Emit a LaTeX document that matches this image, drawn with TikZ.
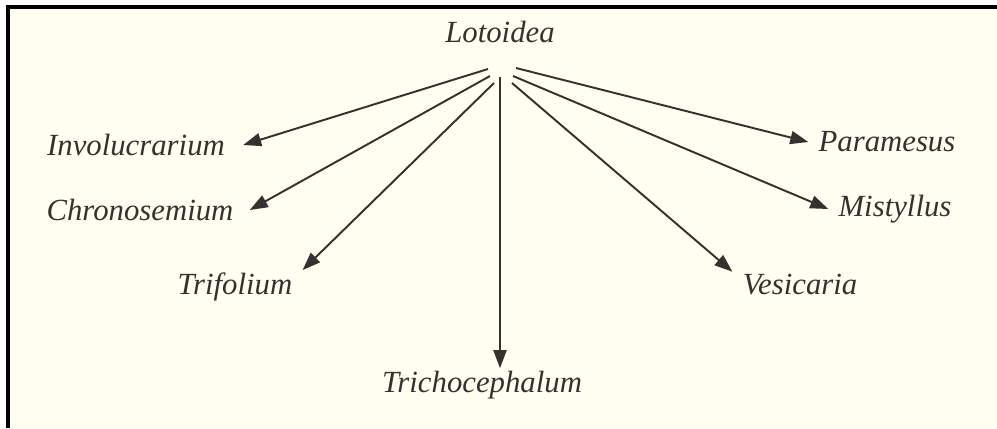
\documentclass[tikz,border=0pt]{standalone}
\usepackage{fontspec}
\setmainfont{Liberation Serif}
\usepackage{xcolor}
\usepackage{tikz}
\usetikzlibrary{arrows.meta,calc}
\definecolor{paper}{RGB}{255,254,241}
\definecolor{ink}{RGB}{52,50,46}
\begin{document}
\begin{tikzpicture}[
  font=\fontsize{17.5}{20}\selectfont\itshape,
  taxon/.style={text=ink, inner xsep=0.2cm, inner ysep=0.05cm},
  arrow/.style={draw=ink, line width=1.1pt, -{Triangle[length=0.36cm, width=0.26cm]}}
]
\useasboundingbox (0,0) rectangle (19.94,-8.56);
\fill[white] (0,0) rectangle (19.94,-8.56);
\fill[paper] (0.16,-0.14) rectangle (19.94,-8.56);
\draw[line width=1.8pt, black] (0.16,-8.56) -- (0.16,-0.14) -- (19.94,-0.14);

\node[taxon] (lotoidea) at (10.0,-0.64) {Lotoidea};
\node[taxon, inner xsep=0.36cm] (involucrarium) at (2.72,-2.90) {Involucrarium};
\node[taxon, inner xsep=0.32cm] (chronosemium) at (2.80,-4.20) {Chronosemium};
\node[taxon] (trifolium) at (4.70,-5.74) {Trifolium};
\node[taxon] (trichocephalum) at (9.64,-7.70) {Trichocephalum};
\node[taxon] (vesicaria) at (16.0,-5.70) {Vesicaria};
\node[taxon] (mistyllus) at (17.90,-4.18) {Mistyllus};
\node[taxon] (paramesus) at (17.74,-2.84) {Paramesus};

\coordinate (s1) at (9.76,-1.38);
\coordinate (s2) at (9.80,-1.52);
\coordinate (s3) at (9.88,-1.66);
\coordinate (s4) at (10.0,-1.54);
\coordinate (s5) at (10.24,-1.66);
\coordinate (s6) at (10.26,-1.52);
\coordinate (s7) at (10.32,-1.36);

\draw[arrow] (s1) -- (involucrarium.east);
\draw[arrow] (s2) -- (chronosemium.east);
\draw[arrow] (s3) -- (trifolium.north east);
\draw[arrow] (s4) -- (s4 |- trichocephalum.north);
\draw[arrow] (s5) -- (vesicaria.north west);
\draw[arrow] (s6) -- (mistyllus.west);
\draw[arrow] (s7) -- (paramesus.west);
\end{tikzpicture}
\end{document}
